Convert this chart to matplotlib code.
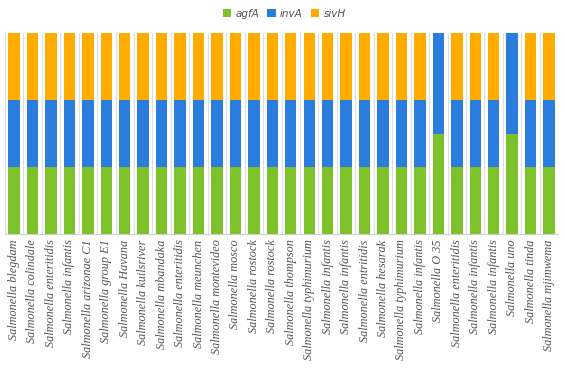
import matplotlib.pyplot as plt
import numpy as np

samples = ["Salmonella blegdam", "Salmonella colindale", "Salmonella enteritidis",
           "Salmonella infantis", "Salmonella arizonae C1", "Salmonella group E1",
           "Salmonella Havana", "Salmonella kuilsriver", "Salmonella mbandaka",
           "Salmonella enteritidis", "Salmonella meunchen", "Salmonella montevideo",
           "Salmonella mosco", "Salmonella rostock", "Salmonella rostock",
           "Salmonella thompson", "Salmonella typhimurium", "Salmonella infantis",
           "Salmonella infantis", "Salmonella entritidis", "Salmonella hesarak",
           "Salmonella typhimurium", "Salmonella infantis", "Salmonella O 35",
           "Salmonella enteritidis", "Salmonella infantis", "Salmonella infantis",
           "Salmonella uno", "Salmonella tinda", "Salmonella mjimwema"]

agfA = [1]*30
invA = [1]*30
sivH = [1]*23 + [0] + [1]*3 + [0] + [1]*2

genes = ["agfA", "invA", "sivH"]
colors = ["#7dc22b", "#2a7ddc", "#ffab00"]

vals = np.array([agfA, invA, sivH], dtype=float)
pct = vals / vals.sum(axis=0) * 100

fig = plt.figure(figsize=(5.65, 3.9), dpi=100)
ax = fig.add_axes([4.8/565, 1 - 234/390, (558.3-4.8)/565, (234-33)/390])

x = np.arange(len(samples))
bottom = np.zeros(len(samples))
for g, c, p in zip(genes, colors, pct):
    ax.bar(x, p, 0.62, bottom=bottom, color=c, label=g, zorder=2)
    bottom += p

ax.set_xlim(-0.5, len(samples) - 0.5)
ax.set_ylim(0, 100)
ax.set_yticks([])
ax.set_xticks(x)
ax.set_xticklabels(samples, rotation=90, fontsize=8.8, family="Liberation Serif",
                   style="italic", color="#555555")
ax.tick_params(axis="x", length=0, pad=4)

for b in np.arange(-0.5, len(samples), 1):
    ax.axvline(b, color="#dcdcec", lw=0.8, zorder=1)

for s in ["top", "right", "left"]:
    ax.spines[s].set_visible(False)
ax.spines["bottom"].set_color("#d0d0d0")

leg = fig.legend(loc="center", bbox_to_anchor=(0.503, 1 - 14/390), ncol=3, frameon=False,
                 handlelength=0.8, handleheight=0.8, handletextpad=0.4,
                 columnspacing=0.8, prop={"style": "italic", "size": 7.5})
for t in leg.get_texts():
    t.set_color("#555555")

fig.savefig("out.png", dpi=100)
